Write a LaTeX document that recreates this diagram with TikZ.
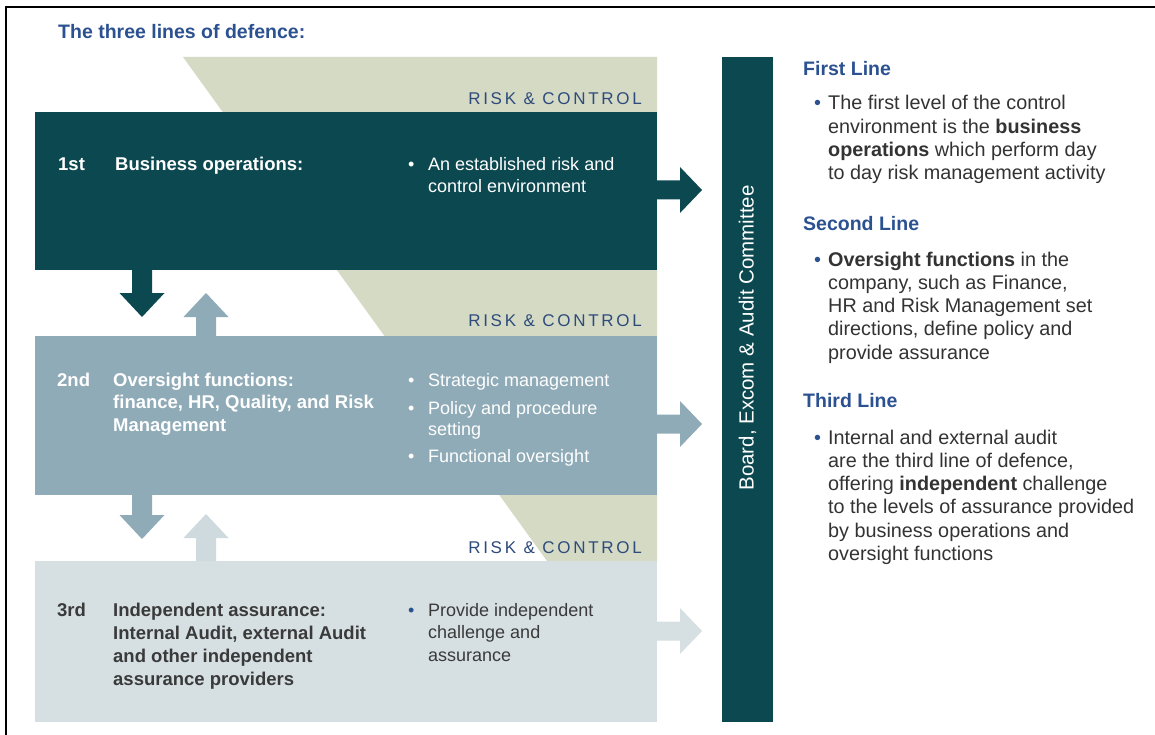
\documentclass[tikz,border=0pt]{standalone}
\usepackage{fontspec}
\setmainfont{Liberation Sans}
\newfontfamily\rcfont[LetterSpace=16]{Liberation Sans}
\definecolor{tealdark}{HTML}{0C4850}
\definecolor{midgrey}{HTML}{8FABB7}
\definecolor{lightgrey}{HTML}{D6E0E3}
\definecolor{lightarrow}{HTML}{CFDADF}
\definecolor{olivebg}{HTML}{D4DAC4}
\definecolor{headblue}{HTML}{2B5191}
\definecolor{rcblue}{HTML}{2E4B7C}
\definecolor{bodytxt}{HTML}{333333}
\definecolor{boxtxt}{HTML}{3A3A3A}
\newcommand\ml[1]{\begin{tabular}[t]{@{}l@{}}#1\end{tabular}}
\newcommand\rblock[3]{\fill[#1] #2 ++(0,-9.5) -- ++(#3-22,0) -- ++(0,-13.5) -- ++(22,23) -- ++(-22,23) -- ++(0,-13.5) -- ++(-#3+22,0) -- cycle;}
\newcommand\dblock[3]{\fill[#1] #2 ++(-10,0) -- ++(0,#3-24) -- ++(-12.5,0) -- ++(22.5,24) -- ++(22.5,-24) -- ++(-12.5,0) -- ++(0,-#3+24) -- cycle;}
\newcommand\ublock[3]{\fill[#1] #2 ++(-10,0) -- ++(0,-#3+24) -- ++(-12.5,0) -- ++(22.5,-24) -- ++(22.5,24) -- ++(-12.5,0) -- ++(0,#3-24) -- cycle;}
\tikzset{
  box/.style={anchor=north west, inner sep=0pt, outer sep=0pt, minimum width=622pt},
  lbl/.style={anchor=base west, inner sep=0pt},
  boxbold/.style={lbl, font=\fontsize{18.5}{22.7}\selectfont\bfseries},
  boxreg/.style={lbl, font=\fontsize{18}{21.5}\selectfont},
  rc/.style={anchor=base east, inner sep=0pt, text=rcblue, font=\fontsize{17}{20}\selectfont\rcfont},
  head/.style={lbl, text=headblue, font=\fontsize{19.5}{23}\selectfont\bfseries},
  body/.style={lbl, text=bodytxt, font=\fontsize{19.8}{23.3}\selectfont},
}
\begin{document}
\begin{tikzpicture}[x=1pt,y=-1pt]
\useasboundingbox (0,0) rectangle (1155,735);
\fill[white] (0,0) rectangle (1155,735);
\draw[line width=2.2pt] (6,735) -- (6,7) -- (1155,7);

\node[head] (title) at (58,39) {The three lines of defence:};

% olive background band
\fill[olivebg] (183,57) -- (657,57) -- (657,561) -- (547,561) -- cycle;

% boxes
\node[box, fill=tealdark, minimum height=158pt] (b1) at (35,112) {};
\node[box, fill=midgrey, minimum height=159pt] (b2) at (35,336) {};
\node[box, fill=lightgrey, minimum height=161pt] (b3) at (35,561) {};
\node[anchor=north west, fill=tealdark, minimum width=51pt, minimum height=665pt, inner sep=0pt, outer sep=0pt] (bar) at (722,57) {};
\node[rotate=90, text=white, inner sep=0pt, font=\fontsize{20.5}{23}\selectfont] (bartxt) at (747.5,338) {Board, Excom \& Audit Committee};

% risk & control labels
\node[rc] (rc1) at (642,105) {RISK \& CONTROL};
\node[rc] (rc2) at (642,326) {RISK \& CONTROL};
\node[rc] (rc3) at (642,553) {RISK \& CONTROL};

% block arrows to the committee bar
\rblock{tealdark}{([yshift=-78pt]b1.north east)}{45}
\rblock{midgrey}{([yshift=-88pt]b2.north east)}{45}
\rblock{lightgrey}{([yshift=-70pt]b3.north east)}{45}

% vertical block arrows between the lines
\dblock{tealdark}{([xshift=107pt]b1.south west)}{47}
\ublock{midgrey}{([xshift=171pt]b2.north west)}{43}
\dblock{midgrey}{([xshift=107pt]b2.south west)}{44}
\ublock{lightarrow}{([xshift=171pt]b3.north west)}{47}

% box 1 text
\node[boxbold, text=white] (n1) at (58,171) {1st};
\node[boxbold, text=white] (t1) at (115,171) {Business operations:};
\node[boxreg, text=white] (bu1) at (408,171) {\textbullet};
\node[boxreg, text=white] (i1) at (428,171) {\ml{An established risk and\\control environment}};

% box 2 text
\node[boxbold, text=white] (n2) at (57,386) {2nd};
\node[boxbold, text=white] (t2) at (113,386) {\ml{Oversight functions:\\finance, HR, Quality, and Risk\\Management}};
\node[boxreg, text=white] (bu2a) at (408,386) {\textbullet};
\node[boxreg, text=white] (i2a) at (428,386) {Strategic management};
\node[boxreg, text=white] (bu2b) at (408,414) {\textbullet};
\node[boxreg, text=white] (i2b) at (428,414) {\ml{Policy and procedure\\setting}};
\node[boxreg, text=white] (bu2c) at (408,462) {\textbullet};
\node[boxreg, text=white] (i2c) at (428,462) {Functional oversight};

% box 3 text
\node[boxbold, text=boxtxt] (n3) at (57,616) {3rd};
\node[boxbold, text=boxtxt, font=\fontsize{18.5}{23.3}\selectfont\bfseries] (t3) at (113,616) {\ml{Independent assurance:\\Internal Audit, external Audit\\and other independent\\assurance providers}};
\node[boxreg, text=headblue] (bu3) at (408,616) {\textbullet};
\node[boxreg, text=boxtxt, font=\fontsize{18}{22.5}\selectfont] (i3) at (428,616) {\ml{Provide independent\\challenge and\\assurance}};

% right panel
\node[head] (h1) at (803,76) {First Line};
\node[body, text=headblue] (rb1) at (814,110) {\textbullet};
\node[body] (r1) at (828,110) {\ml{The first level of the control\\environment is the \textbf{business}\\\textbf{operations} which perform day\\to day risk management activity}};
\node[head] (h2) at (803,230) {Second Line};
\node[body, text=headblue] (rb2) at (814,266) {\textbullet};
\node[body] (r2) at (828,266) {\ml{\textbf{Oversight functions} in the\\company, such as Finance,\\HR and Risk Management set\\directions, define policy and\\provide assurance}};
\node[head] (h3) at (803,407) {Third Line};
\node[body, text=headblue] (rb3) at (814,444) {\textbullet};
\node[body] (r3) at (828,444) {\ml{Internal and external audit\\are the third line of defence,\\offering \textbf{independent} challenge\\to the levels of assurance provided\\by business operations and\\oversight functions}};
\end{tikzpicture}
\end{document}
